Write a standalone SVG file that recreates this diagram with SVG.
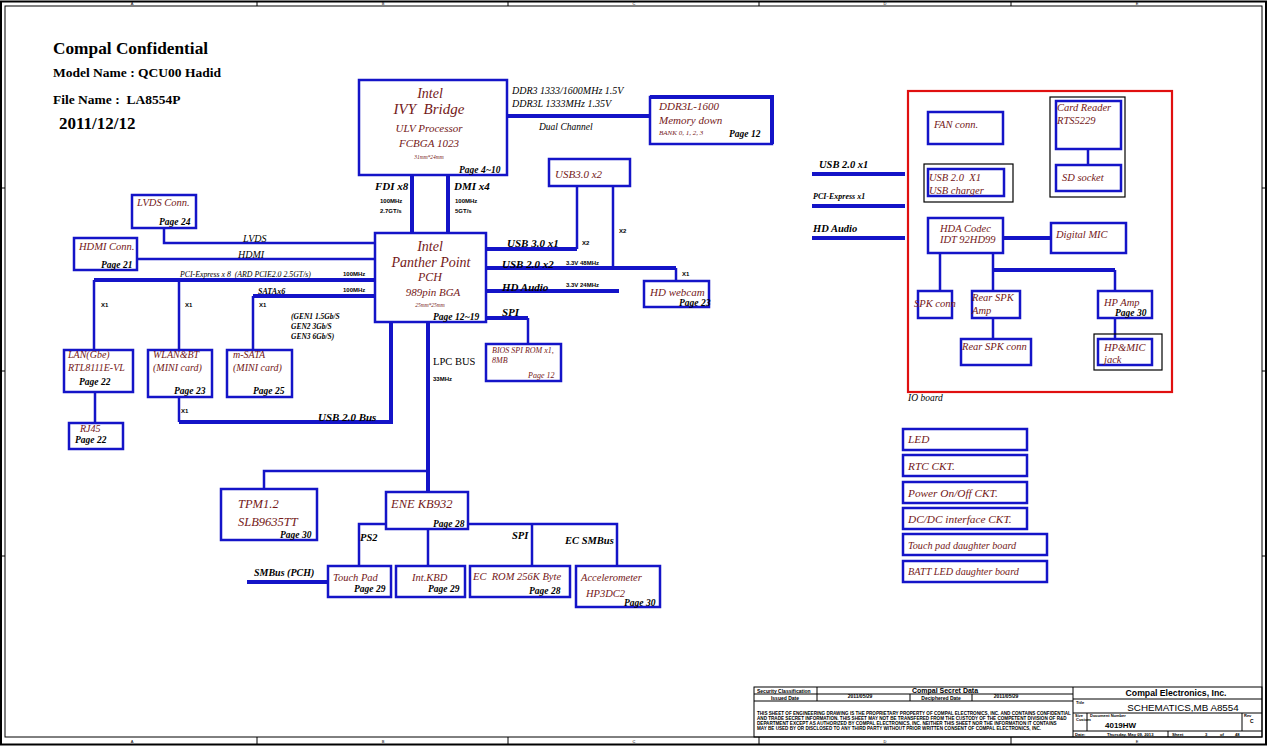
<svg xmlns="http://www.w3.org/2000/svg" width="1267" height="746" viewBox="0 0 1267 746">
<defs>
<style>
.bx{fill:none;stroke:#1414c8;stroke-width:2.5}
.ob{fill:none;stroke:#000;stroke-width:1.2}
.rd{fill:none;stroke:#e01010;stroke-width:2.2}
.fr{fill:none;stroke:#000;stroke-width:1}
.w4{fill:none;stroke:#1414c8;stroke-width:4}
.w2{fill:none;stroke:#1414c8;stroke-width:2.5}
text{white-space:pre}
.t{font-family:"Liberation Serif",serif;font-style:italic;fill:#741818;font-size:10.5px}
.pg{font-family:"Liberation Serif",serif;font-style:italic;font-weight:bold;fill:#000;font-size:9.5px}
.bus{font-family:"Liberation Serif",serif;font-style:italic;font-weight:bold;fill:#000;font-size:11px}
.lab{font-family:"Liberation Serif",serif;font-style:italic;fill:#000;font-size:10px}
.sm{font-family:"Liberation Sans",Arial,sans-serif;font-weight:bold;fill:#000;font-size:6px}
.hd{font-family:"Liberation Serif",serif;font-weight:bold;fill:#000}
.tb{font-family:"Liberation Sans",Arial,sans-serif;font-weight:bold;fill:#000}
.tr{font-family:"Liberation Sans",Arial,sans-serif;fill:#000}
.li{font-size:11.3px}
</style>
</defs>
<rect width="1267" height="746" fill="#fff"/>
<g id="frame">
<rect class="fr" x="1" y="1.5" width="1265" height="743" style="stroke-width:2"/>
<rect class="fr" x="5" y="6" width="1257" height="731"/>
<path class="fr" d="M257,1V6M508,1V6M759,1V6M1011,1V6M257,737V745M508,737V745M759,737V745M1011,737V745M0,188H5M0,371H5M0,556H5M1262,188H1267M1262,371H1267M1262,556H1267"/>
<g class="tr" style="font-size:4px" text-anchor="middle">
<text x="132" y="5">A</text><text x="383" y="5">B</text><text x="634" y="5">C</text><text x="885" y="5">D</text><text x="1137" y="5">E</text>
<text x="132" y="743">A</text><text x="383" y="743">B</text><text x="634" y="743">C</text><text x="885" y="743">D</text><text x="1137" y="743">E</text>
</g>
</g>
<g id="header">
<text class="hd" x="53" y="54" style="font-size:17.3px">Compal Confidential</text>
<text class="hd" x="53" y="77" style="font-size:13.5px">Model Name : QCU00 Hadid</text>
<text class="hd" x="53" y="104" style="font-size:13.5px">File Name :  LA8554P</text>
<text class="hd" x="59" y="129" style="font-size:17px">2011/12/12</text>
</g>
<g id="connectors">
<path class="w4" d="M507,116H650"/>
<path class="w4" d="M412,175V233M448,175V233"/>
<path class="w4" d="M486,249H577"/><path class="w2" d="M577,249V186"/>
<path class="w2" d="M613,186V268"/>
<path class="w4" d="M486,268H676"/><path class="w2" d="M676,268V281"/>
<path class="w4" d="M486,291H619"/>
<path class="w4" d="M486,318H528"/><path class="w2" d="M528,318V344"/>
<path class="w2" d="M164,228V243H375M137,259H375"/>
<path class="w4" d="M94,280H375M253,296H375"/>
<path class="w2" d="M94,280V350M179,280V350M253,296V350M95,392V423"/>
<path class="w2" d="M179,397V422"/>
<path class="w4" d="M179,422H391V322"/>
<path class="w4" d="M428,322V492"/>
<path class="w2" d="M428,471H264V489"/>
<path class="w2" d="M359,566V524H386M468,524H617V566M428,529V566M532,524V566"/>
<path class="w4" d="M247,582H328"/>
<path class="w4" d="M812,174H905M812,206H905M812,238H905"/>
<path class="w4" d="M1003,238H1051"/>
<path class="w2" d="M940,253V291M993,253V291M1115,270V291M993,318V339M1115,318V339M1088,149V165"/>
<path class="w4" d="M993,270H1115"/>
<text class="lab" x="512" y="94">DDR3 1333/1600MHz 1.5V</text>
<text class="lab" x="512" y="107">DDR3L 1333MHz 1.35V</text>
<text class="lab" x="539" y="130" style="font-size:9.5px">Dual Channel</text>
<text class="bus" x="375" y="190">FDI x8</text>
<text class="sm" x="380" y="203">100MHz</text><text class="sm" x="380" y="213">2.7GT/s</text>
<text class="bus" x="454" y="190">DMI x4</text>
<text class="sm" x="455" y="203">100MHz</text><text class="sm" x="455" y="213">5GT/s</text>
<text class="bus" x="507" y="247">USB 3.0 x1</text>
<text class="sm" x="582" y="245">X2</text>
<text class="sm" x="619" y="233">X2</text>
<text class="bus" x="502" y="268">USB 2.0 x2</text>
<text class="sm" x="566" y="265">3.3V 48MHz</text>
<text class="sm" x="682" y="276">X1</text>
<text class="bus" x="502" y="291">HD Audio</text>
<text class="sm" x="566" y="287">3.3V 24MHz</text>
<text class="bus" x="502" y="316">SPI</text>
<text class="lab" x="433" y="365" style="font-style:normal;font-size:10.5px">LPC BUS</text>
<text class="sm" x="433" y="381">33MHz</text>
<text class="lab" x="243" y="242">LVDS</text>
<text class="lab" x="238" y="258">HDMI</text>
<text class="lab" x="180" y="277" style="font-size:7.8px">PCI-Express x 8  (ARD PCIE2.0 2.5GT/s)</text>
<text class="sm" x="343" y="276">100MHz</text>
<text class="lab" x="258" y="294" style="font-size:8px;font-weight:bold">SATAx6</text>
<text class="sm" x="343" y="292">100MHz</text>
<text class="sm" x="101" y="307">X1</text><text class="sm" x="185" y="307">X1</text><text class="sm" x="259" y="307">X1</text>
<text class="lab" x="291" y="319" style="font-size:7.5px;font-weight:bold">(GEN1 1.5Gb/S</text>
<text class="lab" x="291" y="329" style="font-size:7.5px;font-weight:bold">GEN2 3Gb/S</text>
<text class="lab" x="291" y="339" style="font-size:7.5px;font-weight:bold">GEN3 6Gb/S)</text>
<text class="sm" x="181" y="413">X1</text>
<text class="bus" x="318" y="421">USB 2.0 Bus</text>
<text class="bus" x="360" y="541" style="font-size:10.5px">PS2</text>
<text class="bus" x="512" y="539" style="font-size:10.5px">SPI</text>
<text class="bus" x="565" y="544" style="font-size:10.5px">EC SMBus</text>
<text class="bus" x="254" y="576" style="font-size:10px">SMBus (PCH)</text>
<text class="bus" x="819" y="168" style="font-size:10.5px">USB 2.0 x1</text>
<text class="bus" x="813" y="199" style="font-size:8px">PCI-Express x1</text>
<text class="bus" x="813" y="232" style="font-size:10.5px">HD Audio</text>
</g>
<g id="cpu">
<rect class="bx" x="359" y="80" width="148" height="95"/>
<text class="t" x="430" y="98" text-anchor="middle" style="font-size:14px">Intel</text>
<text class="t" x="429" y="114" text-anchor="middle" style="font-size:15px">IVY  Bridge</text>
<text class="t" x="429" y="132" text-anchor="middle" style="font-size:11px">ULV Processor</text>
<text class="t" x="429" y="147" text-anchor="middle" style="font-size:11px">FCBGA 1023</text>
<text class="t" x="429" y="159" text-anchor="middle" style="font-size:5.5px">31mm*24mm</text>
<text class="pg" x="459" y="173">Page 4~10</text>
</g>
<g id="memory">
<rect class="bx" x="650" y="97" width="122" height="47"/>
<path class="w4" d="M650,97H772V144"/>
<text class="t" x="659" y="110" style="font-size:11px">DDR3L-1600</text>
<text class="t" x="659" y="124" style="font-size:11px">Memory down</text>
<text class="t" x="659" y="135" style="font-size:7px">BANK 0, 1, 2, 3</text>
<text class="pg" x="729" y="137">Page 12</text>
</g>
<g id="usb3">
<rect class="bx" x="549" y="159" width="81" height="27"/>
<text class="t" x="555" y="178" style="font-size:11px">USB3.0 x2</text>
</g>
<g id="pch">
<rect class="bx" x="375" y="233" width="111" height="89"/>
<text class="t" x="430" y="251" text-anchor="middle" style="font-size:14px">Intel</text>
<text class="t" x="431" y="267" text-anchor="middle" style="font-size:14px">Panther Point</text>
<text class="t" x="430" y="281" text-anchor="middle" style="font-size:12px">PCH</text>
<text class="t" x="433" y="296" text-anchor="middle" style="font-size:11px">989pin BGA</text>
<text class="t" x="430" y="307" text-anchor="middle" style="font-size:5.5px">25mm*25mm</text>
<text class="pg" x="433" y="320">Page 12~19</text>
</g>
<g id="webcam">
<rect class="bx" x="644" y="281" width="65" height="26"/>
<text class="t" x="650" y="296" style="font-size:11px">HD webcam</text>
<text class="pg" x="679" y="306">Page 23</text>
</g>
<g id="bios">
<rect class="bx" x="486" y="344" width="75" height="37"/>
<text class="t" x="492" y="353" style="font-size:8px">BIOS SPI ROM x1,</text>
<text class="t" x="492" y="363" style="font-size:8px">8MB</text>
<text class="t" x="528" y="378" style="font-size:8px">Page 12</text>
</g>
<g id="lvds">
<rect class="bx" x="132" y="195" width="64" height="33"/>
<text class="t" x="137" y="206">LVDS Conn.</text>
<text class="pg" x="159" y="225">Page 24</text>
</g>
<g id="hdmi">
<rect class="bx" x="74" y="238" width="63" height="32"/>
<text class="t" x="79" y="250">HDMI Conn.</text>
<text class="pg" x="101" y="268">Page 21</text>
</g>
<g id="lan">
<rect class="bx" x="64" y="350" width="69" height="42"/>
<text class="t" x="68" y="358" style="font-size:10px">LAN(Gbe)</text>
<text class="t" x="68" y="371" style="font-size:10px">RTL8111E-VL</text>
<text class="pg" x="79" y="385">Page 22</text>
</g>
<g id="rj45">
<rect class="bx" x="69" y="423" width="54" height="26"/>
<text class="t" x="80" y="432" style="font-size:10px">RJ45</text>
<text class="pg" x="75" y="443">Page 22</text>
</g>
<g id="wlan">
<rect class="bx" x="148" y="350" width="64" height="47"/>
<text class="t" x="153" y="358" style="font-size:10px">WLAN&amp;BT</text>
<text class="t" x="153" y="371" style="font-size:10px">(MINI card)</text>
<text class="pg" x="174" y="394">Page 23</text>
</g>
<g id="msata">
<rect class="bx" x="227" y="350" width="65" height="47"/>
<text class="t" x="233" y="358" style="font-size:10px">m-SATA</text>
<text class="t" x="233" y="371" style="font-size:10px">(MINI card)</text>
<text class="pg" x="253" y="394">Page 25</text>
</g>
<g id="tpm">
<rect class="bx" x="221" y="489" width="96" height="51"/>
<text class="t" x="238" y="508" style="font-size:12.5px">TPM1.2</text>
<text class="t" x="238" y="526" style="font-size:12.5px">SLB9635TT</text>
<text class="pg" x="280" y="538">Page 30</text>
</g>
<g id="ene">
<rect class="bx" x="386" y="492" width="82" height="37"/>
<text class="t" x="391" y="508" style="font-size:12.5px">ENE KB932</text>
<text class="pg" x="433" y="527">Page 28</text>
</g>
<g id="touchpad">
<rect class="bx" x="328" y="566" width="63" height="31"/>
<text class="t" x="333" y="581">Touch Pad</text>
<text class="pg" x="354" y="592">Page 29</text>
</g>
<g id="kbd">
<rect class="bx" x="396" y="566" width="69" height="31"/>
<text class="t" x="412" y="581">Int.KBD</text>
<text class="pg" x="428" y="592">Page 29</text>
</g>
<g id="ecrom">
<rect class="bx" x="470" y="566" width="100" height="31"/>
<text class="t" x="473" y="580">EC  ROM 256K Byte</text>
<text class="pg" x="529" y="594">Page 28</text>
</g>
<g id="accel">
<rect class="bx" x="576" y="566" width="84" height="41"/>
<text class="t" x="581" y="581">Accelerometer</text>
<text class="t" x="586" y="597">HP3DC2</text>
<text class="pg" x="624" y="606">Page 30</text>
</g>
<g id="ioboard">
<rect class="rd" x="908" y="91" width="264" height="301"/>
<text class="lab" x="908" y="401" style="font-size:9.5px">IO board</text>
</g>
<g id="fan">
<rect class="bx" x="928" y="112" width="75" height="32"/>
<text class="t" x="934" y="128">FAN conn.</text>
</g>
<g id="usbcharger">
<rect class="ob" x="924" y="164" width="89" height="38"/>
<rect class="bx" x="928" y="169" width="76" height="27"/>
<text class="t" x="929" y="181">USB 2.0  X1</text>
<text class="t" x="929" y="194">USB charger</text>
</g>
<g id="cardreader">
<rect class="ob" x="1050" y="97" width="75" height="100"/>
<rect class="bx" x="1056" y="101" width="65" height="48"/>
<text class="t" x="1057" y="111">Card Reader</text>
<text class="t" x="1057" y="124">RTS5229</text>
</g>
<g id="sdsocket">
<rect class="bx" x="1056" y="165" width="65" height="26"/>
<text class="t" x="1062" y="181">SD socket</text>
</g>
<g id="codec">
<rect class="bx" x="928" y="218" width="75" height="35"/>
<text class="t" x="940" y="232">HDA Codec</text>
<text class="t" x="940" y="243">IDT 92HD99</text>
</g>
<g id="dmic">
<rect class="bx" x="1051" y="223" width="75" height="30"/>
<text class="t" x="1056" y="238">Digital MIC</text>
</g>
<g id="spkconn">
<rect class="bx" x="918" y="291" width="34" height="27"/>
<text class="t" x="914" y="307">SPK conn</text>
</g>
<g id="rearamp">
<rect class="bx" x="972" y="291" width="48" height="27"/>
<text class="t" x="972" y="301">Rear SPK</text>
<text class="t" x="972" y="314">Amp</text>
</g>
<g id="rearconn">
<rect class="bx" x="961" y="339" width="70" height="26"/>
<text class="t" x="962" y="350">Rear SPK conn</text>
</g>
<g id="hpamp">
<rect class="bx" x="1098" y="291" width="54" height="27"/>
<text class="t" x="1104" y="306">HP Amp</text>
<text class="pg" x="1115" y="316">Page 30</text>
</g>
<g id="hpjack">
<rect class="ob" x="1094" y="334" width="68" height="36"/>
<rect class="bx" x="1098" y="339" width="54" height="26"/>
<text class="t" x="1104" y="351">HP&amp;MIC</text>
<text class="t" x="1104" y="363">jack</text>
</g>
<g id="led"><rect class="bx" x="903" y="429" width="124" height="21"/><text class="t li" x="908" y="443">LED</text></g>
<g id="rtc"><rect class="bx" x="903" y="455" width="124" height="21"/><text class="t li" x="908" y="470">RTC CKT.</text></g>
<g id="power"><rect class="bx" x="903" y="482" width="124" height="21"/><text class="t li" x="908" y="497">Power On/Off CKT.</text></g>
<g id="dcdc"><rect class="bx" x="903" y="508" width="124" height="21"/><text class="t li" x="908" y="523">DC/DC interface CKT.</text></g>
<g id="tpboard"><rect class="bx" x="903" y="534" width="144" height="21"/><text class="t" x="908" y="549" style="font-size:10.2px">Touch pad daughter board</text></g>
<g id="battled"><rect class="bx" x="903" y="561" width="144" height="21"/><text class="t" x="908" y="575" style="font-size:10.2px">BATT LED daughter board</text></g>
<g id="titleblock">
<rect class="fr" x="754" y="687" width="508" height="50"/>
<path class="fr" d="M817,687V701M1073,687V737M754,694H1073M754,701H1073M910,694V701M972,694V701M1073,699H1262M1073,713H1262M1073,731H1262M1087,713V731M1242,713V731M1168,731V737"/>
<text class="tb" x="757" y="692.5" style="font-size:5px">Security Classification</text>
<text class="tb" x="945" y="692.5" style="font-size:7px" text-anchor="middle">Compal Secret Data</text>
<text class="tb" x="785" y="699.5" style="font-size:5px" text-anchor="middle">Issued Date</text>
<text class="tb" x="860" y="698" style="font-size:5px" text-anchor="middle">2011/05/29</text>
<text class="tb" x="941" y="699.5" style="font-size:5px" text-anchor="middle">Deciphered Date</text>
<text class="tb" x="1006" y="698" style="font-size:5px" text-anchor="middle">2011/05/29</text>
<text class="tb" x="757" y="715" style="font-size:4.6px">THIS SHEET OF ENGINEERING DRAWING IS THE PROPRIETARY PROPERTY OF COMPAL ELECTRONICS, INC. AND CONTAINS CONFIDENTIAL</text>
<text class="tb" x="757" y="720" style="font-size:4.6px">AND TRADE SECRET INFORMATION. THIS SHEET MAY NOT BE TRANSFERED FROM THE CUSTODY OF THE COMPETENT DIVISION OF R&amp;D</text>
<text class="tb" x="757" y="725" style="font-size:4.6px">DEPARTMENT EXCEPT AS AUTHORIZED BY COMPAL ELECTRONICS, INC. NEITHER THIS SHEET NOR THE INFORMATION IT CONTAINS</text>
<text class="tb" x="757" y="730" style="font-size:4.6px">MAY BE USED BY OR DISCLOSED TO ANY THIRD PARTY WITHOUT PRIOR WRITTEN CONSENT OF COMPAL ELECTRONICS, INC.</text>
<text class="tb" x="1176" y="696" style="font-size:8.7px" text-anchor="middle">Compal Electronics, Inc.</text>
<text class="tb" x="1076" y="704" style="font-size:4px">Title</text>
<text class="tr" x="1183" y="711" style="font-size:9.8px" text-anchor="middle">SCHEMATICS,MB A8554</text>
<text class="tb" x="1075" y="717" style="font-size:4px">Size</text>
<text class="tb" x="1076" y="721" style="font-size:4px">Custom</text>
<text class="tb" x="1090" y="717" style="font-size:4px">Document Number</text>
<text class="tb" x="1105" y="728" style="font-size:8px">4019HW</text>
<text class="tb" x="1244" y="717" style="font-size:4px">Rev</text>
<text class="tb" x="1250" y="723" style="font-size:5px">C</text>
<text class="tb" x="1075" y="735.5" style="font-size:4.2px">Date:</text>
<text class="tb" x="1107" y="735.5" style="font-size:4.2px">Thursday, May 09, 2013</text>
<text class="tb" x="1172" y="735.5" style="font-size:4.2px">Sheet</text>
<text class="tb" x="1205" y="735.5" style="font-size:4.2px">3</text>
<text class="tb" x="1220" y="735.5" style="font-size:4.2px">of</text>
<text class="tb" x="1235" y="735.5" style="font-size:4.2px">48</text>
</g>
</svg>
